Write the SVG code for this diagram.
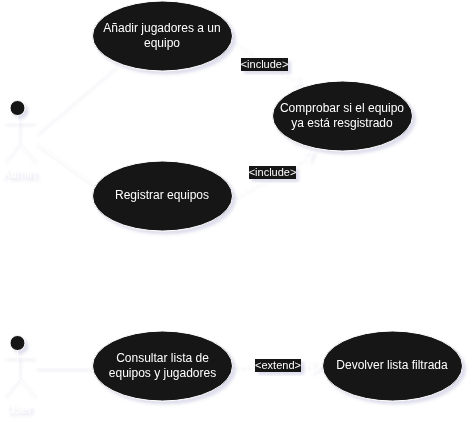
<svg xmlns="http://www.w3.org/2000/svg" width="474" height="428" viewBox="0 0 474 428">
<style>
text{font-family:"Liberation Sans",Arial,sans-serif;fill:#fff;text-anchor:middle}
.n{font-size:12px}
.l{font-size:11px}
.a{font-size:12px}
.e{fill:#141414;stroke:#fff;stroke-width:1}
.head{fill:#141414;stroke:#fff;stroke-width:1}
.s{fill:none;stroke:#fff;stroke-width:1}
.c{fill:none;stroke:#fff;stroke-width:1}
.d{stroke-dasharray:3 3}
.bg{fill:#141414}
</style>
<defs>
<filter id="sh" x="-20%" y="-20%" width="150%" height="150%">
<feDropShadow dx="3" dy="3" stdDeviation="1.500" flood-color="#9a9ac8" flood-opacity="0.32"/>
</filter>
</defs>
<rect width="474" height="428" fill="#fff"/>
<g id="connectors" filter="url(#sh)">
<path class="c" d="M34 133L114 65"/>
<path class="c" d="M34 142L94 185"/>
<path class="c" d="M34 367H93"/>
<path class="c d" d="M233 41L299 83"/>
<path class="c" d="M291 84L300 84L296 75"/>
<path class="c d" d="M233 196L312 153"/>
<path class="c" d="M303 152L313 152L308 161"/>
<path class="c d" d="M233 366H321"/>
<path class="c" d="M310 360L322 366L310 372"/>
</g>
<g id="actor-admin" filter="url(#sh)">
<circle class="head" cx="17.500" cy="108" r="7.500"/>
<path class="s" d="M17.500 115.500V142M3 122H33M17.500 142L3 160M17.500 142L33 160"/>
<text class="a" x="19" y="178">Admin</text>
</g>
<g id="actor-user" filter="url(#sh)">
<circle class="head" cx="17.500" cy="343" r="7.500"/>
<path class="s" d="M17.500 350.500V377M3 357H33M17.500 377L3 395M17.500 377L33 395"/>
<text class="a" x="19" y="413">User</text>
</g>
<g id="uc-anadir" filter="url(#sh)">
<ellipse class="e" cx="162.500" cy="36" rx="70" ry="35"/>
<text class="n" x="162" y="32">Añadir jugadores a un</text>
<text class="n" x="162" y="47">equipo</text>
</g>
<g id="uc-comprobar" filter="url(#sh)">
<ellipse class="e" cx="342.500" cy="116" rx="70" ry="35"/>
<text class="n" x="342" y="112">Comprobar si el equipo</text>
<text class="n" x="342" y="127">ya está resgistrado</text>
</g>
<g id="uc-registrar" filter="url(#sh)">
<ellipse class="e" cx="162.500" cy="196" rx="70" ry="35"/>
<text class="n" x="162" y="199">Registrar equipos</text>
</g>
<g id="uc-consultar" filter="url(#sh)">
<ellipse class="e" cx="162.500" cy="366" rx="70" ry="35"/>
<text class="n" x="162.500" y="362">Consultar lista de</text>
<text class="n" x="162.500" y="377">equipos y jugadores</text>
</g>
<g id="uc-devolver" filter="url(#sh)">
<ellipse class="e" cx="392.500" cy="366" rx="70" ry="35"/>
<text class="n" x="392" y="369">Devolver lista filtrada</text>
</g>
<g id="label-include-1" filter="url(#sh)">
<rect class="bg" x="241" y="58" width="47" height="13"/>
<text class="l" x="264.500" y="68">&lt;include&gt;</text>
</g>
<g id="label-include-2" filter="url(#sh)">
<rect class="bg" x="249" y="166" width="47" height="13"/>
<text class="l" x="272.500" y="176">&lt;include&gt;</text>
</g>
<g id="label-extend" filter="url(#sh)">
<rect class="bg" x="255" y="359" width="46" height="13"/>
<text class="l" x="278" y="369">&lt;extend&gt;</text>
</g>
</svg>
